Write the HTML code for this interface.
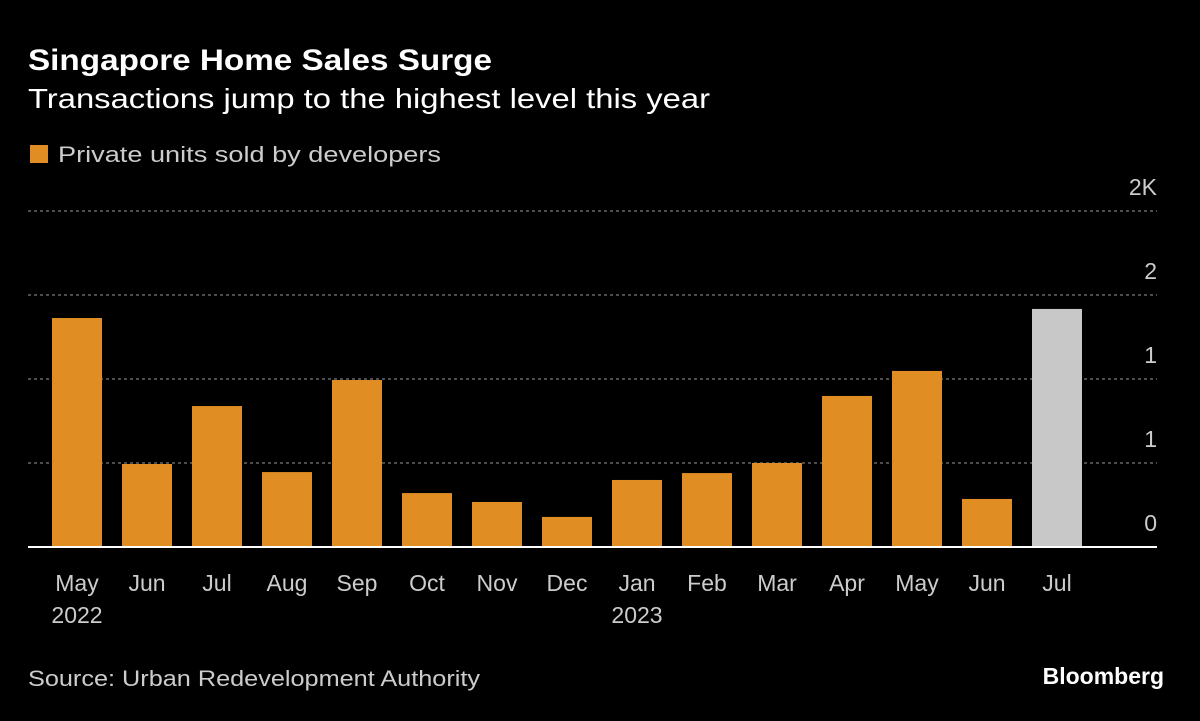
<!DOCTYPE html>
<html><head><meta charset="utf-8"><style>
body{margin:0;background:#000;width:1200px;height:716px;overflow:hidden;font-family:"Liberation Sans",sans-serif;color:#fff}
</style></head><body>
<svg width="1200" height="716" xmlns="http://www.w3.org/2000/svg">
<rect width="1200" height="716" fill="#000"/>
<text x="28" y="70" font-size="30" font-weight="bold" fill="#fff" textLength="464" lengthAdjust="spacingAndGlyphs">Singapore Home Sales Surge</text>
<text x="28" y="108" font-size="28" fill="#fff" textLength="682" lengthAdjust="spacingAndGlyphs">Transactions jump to the highest level this year</text>
<rect x="30" y="145" width="18" height="18" fill="#e08e24"/>
<text x="58" y="162" font-size="22" fill="#ccc" textLength="383" lengthAdjust="spacingAndGlyphs">Private units sold by developers</text>
<g id="grid"></g><g id="bars"></g><g id="xlabels"></g><g id="ylabels"></g>
<line x1="28" x2="1157" y1="547" y2="547" stroke="#fff" stroke-width="2"/>
<text x="28" y="686" font-size="22" fill="#ccc" textLength="452" lengthAdjust="spacingAndGlyphs">Source: Urban Redevelopment Authority</text>
<text x="1164" y="684" font-size="23" font-weight="bold" fill="#fff" text-anchor="end">Bloomberg</text>
</svg>
<script>
const categories=["May","Jun","Jul","Aug","Sep","Oct","Nov","Dec","Jan","Feb","Mar","Apr","May","Jun","Jul"];
const years=["2022","","","","","","","","2023","","","","","",""];
const values=[1363,494,839,446,994,321,268,179,399,440,500,899,1048,286,1417];
const yTicks=[0,500,1000,1500,2000];
const yTickLabels=["0","1","1","2","2K"];
const NS="http://www.w3.org/2000/svg";
const y=v=>547-v*84/500;
const x=i=>52+i*70;
function mk(tag,attrs,parent){const e=document.createElementNS(NS,tag);for(const k in attrs)e.setAttribute(k,attrs[k]);document.getElementById(parent).appendChild(e);return e;}
yTicks.forEach((t,i)=>{
  if(t>0){const l=mk("line",{x1:28,x2:1157,y1:y(t),y2:y(t),stroke:"#666","stroke-dasharray":"3,3","stroke-width":1.5},"grid");
  
  }
  const tx=mk("text",{x:1157,y:y(t)-16,"font-size":23,fill:"#ccc","text-anchor":"end"},"ylabels");
  tx.textContent=yTickLabels[i];
  
  
});
values.forEach((v,i)=>{
  const last=i===values.length-1;
  const r=mk("rect",{x:x(i),y:y(v),width:50,height:547-y(v),fill:last?"#c8c8c8":"#e08e24"},"bars");
  
  
  const t=mk("text",{x:x(i)+25,y:591,"font-size":23,fill:"#ccc","text-anchor":"middle"},"xlabels");
  t.textContent=categories[i];
  
  
  if(years[i]){const yt=mk("text",{x:x(i)+25,y:623,"font-size":23,fill:"#ccc","text-anchor":"middle"},"xlabels");
  yt.textContent=years[i];
  
  }
});
</script>
</body></html>
